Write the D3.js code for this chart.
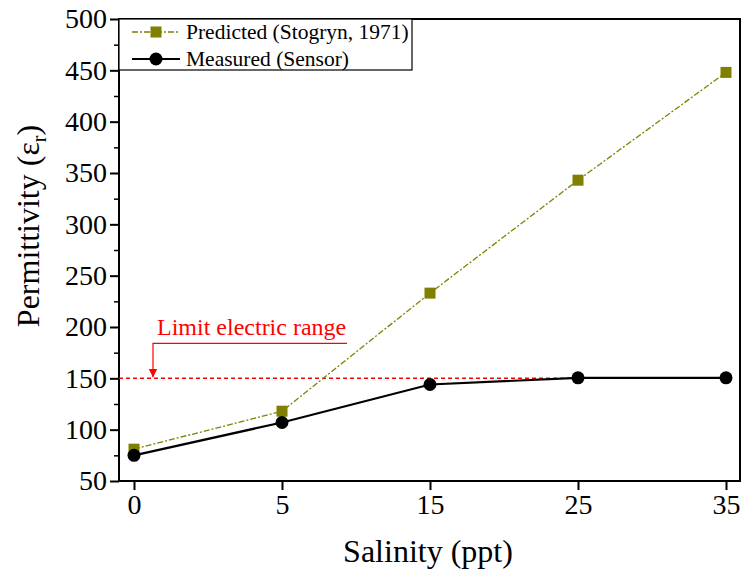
<!DOCTYPE html>
<html>
<head>
<meta charset="utf-8">
<script src="https://cdn.jsdelivr.net/npm/d3@7"></script>
<style>
  body { margin: 0; background: #fff; }
  svg text { font-family: "Liberation Serif", "Times New Roman", serif; }
</style>
</head>
<body>
<div id="chart"></div>
<script>
// Chart data
const salinity = ["0", "5", "15", "25", "35"];
const predicted = [81, 118, 233, 343, 448];
const measured = [75, 107, 144, 150.5, 150.5];
const yTicks = [50, 100, 150, 200, 250, 300, 350, 400, 450, 500];
const limitValue = 150;

const W = 743, H = 571;
const margin = { top: 19, right: 3, bottom: 90, left: 119 };
const width = W - margin.left - margin.right;
const height = H - margin.top - margin.bottom;

const svg = d3.select("#chart").append("svg")
  .attr("width", W).attr("height", H)
  .append("g")
  .attr("transform", `translate(${margin.left}, ${margin.top})`);

// Scales
const x = d3.scalePoint().domain(salinity).range([15, width - 14]);
const y = d3.scaleLinear().domain([50, 500]).range([height, 0]);

// Frame
svg.append("rect")
  .attr("width", width).attr("height", height)
  .attr("fill", "none").attr("stroke", "#000").attr("stroke-width", 2);

// Y axis, with minor ticks
const yAxis = svg.append("g")
  .attr("font-family", "Liberation Serif")
  .call(d3.axisLeft(y).tickValues(yTicks).tickSize(9).tickPadding(3));
yAxis.select(".domain").remove();
yAxis.selectAll("line").attr("stroke-width", 2);
yAxis.selectAll("text").attr("font-size", 28).attr("fill", "#000");

svg.append("g")
  .call(d3.axisLeft(y).tickValues(d3.range(75, 500, 50)).tickSize(5).tickFormat(""))
  .call(g => g.select(".domain").remove())
  .selectAll("line").attr("stroke-width", 1.5);

// X axis
const xAxis = svg.append("g")
  .attr("font-family", "Liberation Serif")
  .attr("transform", `translate(0, ${height})`)
  .call(d3.axisBottom(x).tickSize(9).tickPadding(4));
xAxis.select(".domain").remove();
xAxis.selectAll("line").attr("stroke-width", 2);
xAxis.selectAll("text").attr("font-size", 28).attr("fill", "#000");

// Axis titles
svg.append("text")
  .attr("x", 309).attr("y", height + 81)
  .attr("text-anchor", "middle").attr("font-size", 32)
  .text("Salinity (ppt)");

const yt = svg.append("text")
  .attr("transform", `translate(${-80}, ${207}) rotate(-90)`)
  .attr("text-anchor", "middle").attr("font-size", 32);
yt.append("tspan").text("Permittivity (ε");
yt.append("tspan").attr("font-size", 20).attr("dy", 7).text("r");
yt.append("tspan").attr("dy", -7).text(")");

// Limit line
svg.append("line")
  .attr("x1", 0).attr("x2", x("25"))
  .attr("y1", y(limitValue)).attr("y2", y(limitValue))
  .attr("stroke", "#ff0000").attr("stroke-width", 1.5)
  .attr("stroke-dasharray", "4,3");

// Annotation
svg.append("defs").append("marker")
  .attr("id", "arrow").attr("viewBox", "0 0 10 10")
  .attr("refX", 10).attr("refY", 5)
  .attr("markerWidth", 7).attr("markerHeight", 9)
  .attr("orient", "auto")
  .append("path").attr("d", "M0,0 L10,5 L0,10 Z").attr("fill", "#ff0000");

const ax = 34, ay = y(limitValue) - 35;
svg.append("path")
  .attr("d", `M${ax + 194},${ay} H${ax} V${y(limitValue) - 1}`)
  .attr("fill", "none").attr("stroke", "#ff0000").attr("stroke-width", 1.2)
  .attr("marker-end", "url(#arrow)");

svg.append("text")
  .attr("x", ax + 4).attr("y", ay - 8)
  .attr("font-size", 24).attr("fill", "#ff0000")
  .text("Limit electric range");

// Lines
const line = vals => d3.line()
  .x((d, i) => x(salinity[i]))
  .y(d => y(d))(vals);

svg.append("path")
  .attr("d", line(predicted))
  .attr("fill", "none").attr("stroke", "#808000").attr("stroke-width", 1.3)
  .attr("stroke-dasharray", "6,2,2,2");

svg.append("path")
  .attr("d", line(measured))
  .attr("fill", "none").attr("stroke", "#000").attr("stroke-width", 2.2);

// Markers
svg.selectAll(".sq").data(predicted).enter().append("rect")
  .attr("x", (d, i) => x(salinity[i]) - 5.5)
  .attr("y", d => y(d) - 5.5)
  .attr("width", 11).attr("height", 11)
  .attr("fill", "#808000");

svg.selectAll(".dot").data(measured).enter().append("circle")
  .attr("cx", (d, i) => x(salinity[i]))
  .attr("cy", d => y(d))
  .attr("r", 6.5).attr("fill", "#000");

// Legend
const legend = svg.append("g");
legend.append("rect")
  .attr("x", 0).attr("y", 0).attr("width", 293).attr("height", 51)
  .attr("fill", "#fff").attr("stroke", "#000").attr("stroke-width", 1.2);

const items = [
  { label: "Predicted (Stogryn, 1971)", color: "#808000", dash: "6,2,2,2", w: 1.3, shape: "square" },
  { label: "Measured (Sensor)", color: "#000", dash: null, w: 2.2, shape: "circle" }
];
items.forEach((it, i) => {
  const ly = 13 + i * 27;
  legend.append("line")
    .attr("x1", 13).attr("x2", 61).attr("y1", ly).attr("y2", ly)
    .attr("stroke", it.color).attr("stroke-width", it.w)
    .attr("stroke-dasharray", it.dash);
  if (it.shape === "square") {
    legend.append("rect").attr("x", 31.5).attr("y", ly - 5.5)
      .attr("width", 11).attr("height", 11).attr("fill", it.color);
  } else {
    legend.append("circle").attr("cx", 37).attr("cy", ly).attr("r", 6.5).attr("fill", it.color);
  }
  legend.append("text")
    .attr("x", 67).attr("y", ly + 7)
    .attr("font-size", 21.5)
    .text(it.label);
});
</script>
</body>
</html>
